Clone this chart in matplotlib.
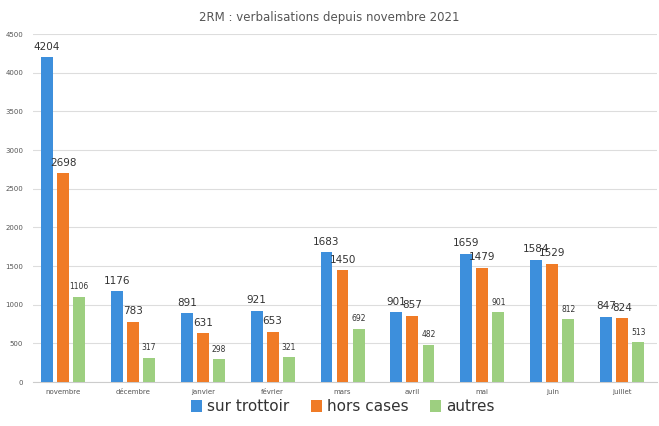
import matplotlib
matplotlib.use("Agg")
import matplotlib.pyplot as plt
import numpy as np

months = ["novembre", "décembre", "janvier", "février", "mars", "avril", "mai", "juin", "juillet"]
sur_trottoir = [4204, 1176, 891, 921, 1683, 901, 1659, 1584, 847]
hors_cases = [2698, 783, 631, 653, 1450, 857, 1479, 1529, 824]
autres = [1106, 317, 298, 321, 692, 482, 901, 812, 513]
series_names = ["sur trottoir", "hors cases", "autres"]
colors = ["#3d8fdc", "#f07b26", "#9dcf80"]

fig = plt.figure(figsize=(6.59, 4.26), dpi=100)
ax = fig.add_axes([0.050, 0.103, 0.947, 0.817])

x = np.arange(len(months))
w = 0.17
offs = [-0.23, 0, 0.23]
data = [sur_trottoir, hors_cases, autres]
for i, (vals, name, c) in enumerate(zip(data, series_names, colors)):
    bars = ax.bar(x + offs[i], vals, width=w, color=c, label=name, zorder=3)
    fs = 5.5 if i == 2 else 7.5
    for b, v in zip(bars, vals):
        ax.text(b.get_x() + b.get_width() / 2, v + 70, str(v), ha="center", va="bottom",
                fontsize=fs, color="#333333", zorder=4)

ax.set_xlim(-0.43, len(months) - 0.5)
ax.set_ylim(0, 4500)
ax.set_yticks(np.arange(0, 4501, 500))
ax.set_xticks(x)
ax.set_xticklabels(months, fontsize=5, color="#555555")
ax.tick_params(axis="y", labelsize=5, colors="#555555", length=0, pad=7)
ax.tick_params(axis="x", length=0, pad=5)
ax.grid(axis="y", color="#dddddd", linewidth=0.8, zorder=0)
for s in ["top", "right", "left"]:
    ax.spines[s].set_visible(False)
ax.spines["bottom"].set_color("#cccccc")

fig.text(0.5, 0.958, "2RM : verbalisations depuis novembre 2021", ha="center", va="center",
         fontsize=8.5, color="#555555")

fig.legend(loc="lower center", ncol=3, bbox_to_anchor=(0.52, -0.005), frameon=False,
           fontsize=11, handlelength=0.75, handleheight=0.75, columnspacing=1.4,
           handletextpad=0.3, labelcolor="#333333")

fig.savefig("out.png", dpi=100)
